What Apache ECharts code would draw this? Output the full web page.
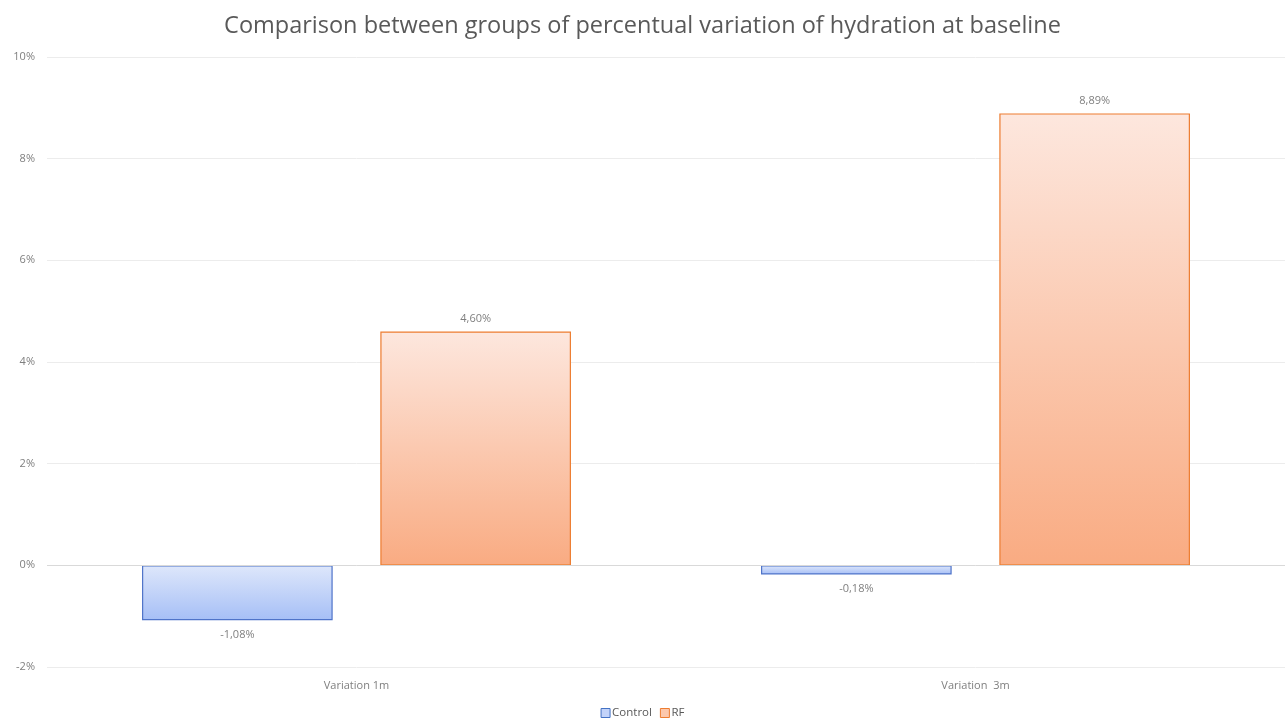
<!DOCTYPE html>
<html><head><meta charset="utf-8">
<script src="https://cdn.jsdelivr.net/npm/echarts@6/dist/echarts.min.js"></script>
<style>html,body{margin:0;padding:0;background:#fff}#c{width:1285px;height:721px}</style>
</head><body><div id="c"></div>
<script>
const categories = ['Variation 1m', 'Variation  3m'];
const controlValues = [-1.08, -0.18];
const rfValues = [4.60, 8.89];
const yTicks = [-2, 0, 2, 4, 6, 8, 10];

const fmt = v => v.toFixed(2).replace('.', ',') + '%';
const labelFont = {color: '#7f7f7f', fontSize: 11, fontFamily: 'Open Sans, Noto Sans, sans-serif'};
function items(vals) {
  return vals.map(v => ({value: v, label: {position: v < 0 ? 'bottom' : 'top', distance: v < 0 ? 9 : 7}}));
}
const chart = echarts.init(document.getElementById('c'));
chart.setOption({
  animation: false,
  title: {
    text: 'Comparison between groups of percentual variation of hydration at baseline',
    left: 'center', top: 9,
    textStyle: {color: '#595959', fontSize: 23.5, fontWeight: 'normal', fontFamily: 'Open Sans, Noto Sans, sans-serif'}
  },
  legend: {
    bottom: -3, left: 'center', itemWidth: 9, itemHeight: 9, itemGap: 8,
    textStyle: {color: '#595959', fontSize: 11.5, fontFamily: 'Open Sans, Noto Sans, sans-serif', padding: [0,0,0,-3]},
    data: [
      {name: 'Control', icon: 'rect', itemStyle: {color: '#c3d3f9', borderColor: '#4472c4', borderWidth: 1}},
      {name: 'RF', icon: 'rect', itemStyle: {color: '#fcc8ad', borderColor: '#ed7d31', borderWidth: 1}}
    ]
  },
  grid: {left: 47, right: 0, top: 57, bottom: 54},
  xAxis: {
    type: 'category', data: categories,
    axisLine: {show: false, onZero: false}, axisTick: {show: false},
    axisLabel: {...labelFont, margin: 13}
  },
  yAxis: {
    type: 'value', min: -2, max: 10, interval: 2,
    axisLabel: {...labelFont, margin: 12, formatter: v => yTicks.includes(v) ? v + '%' : ''},
    splitLine: {lineStyle: {color: '#ececec', width: 1}},
    axisLine: {show: false}, axisTick: {show: false}
  },
  series: [
    {
      name: 'Control', type: 'bar', data: items(controlValues),
      barWidth: '30.8%', barGap: '25%',
      itemStyle: {
        borderColor: '#4f74c9', borderWidth: 1.2,
        color: new echarts.graphic.LinearGradient(0, 0, 0, 1, [
          {offset: 0, color: '#dee7fb'}, {offset: 1, color: '#a6bff6'}
        ])
      },
      label: {show: true, ...labelFont, formatter: p => fmt(p.value)},
      markLine: {
        silent: true, symbol: 'none', label: {show: false},
        lineStyle: {color: '#d9d9d9', type: 'solid', width: 1},
        data: [{yAxis: 0}]
      }
    },
    {
      name: 'RF', type: 'bar', data: items(rfValues),
      barWidth: '30.8%', barGap: '25%',
      itemStyle: {
        borderColor: '#ed7d31', borderWidth: 1.2,
        color: new echarts.graphic.LinearGradient(0, 0, 0, 1, [
          {offset: 0, color: '#fde7de'}, {offset: 1, color: '#f9ab82'}
        ])
      },
      label: {show: true, ...labelFont, formatter: p => fmt(p.value)}
    }
  ]
});
</script></body></html>
